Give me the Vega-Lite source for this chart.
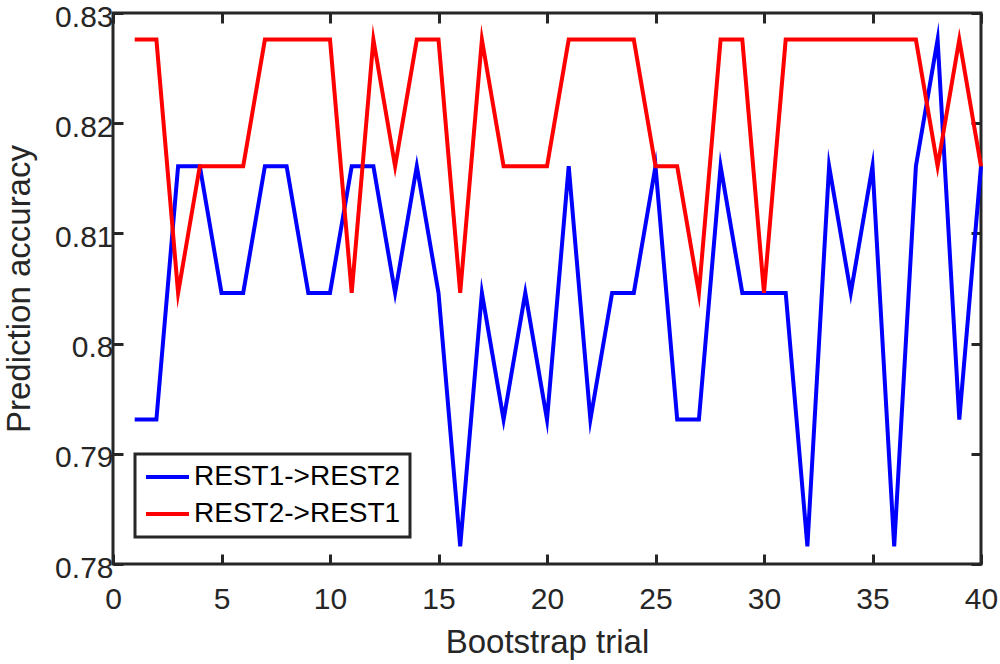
{
  "$schema": "https://vega.github.io/schema/vega-lite/v6.json",
  "width": 868,
  "height": 551,
  "autosize": "none",
  "padding": {"left": 113, "top": 13, "right": 19, "bottom": 100},
  "background": "white",
  "data": {
    "values": [
      {"trial": 1, "acc": 0.793103, "series": "REST1->REST2"},
      {"trial": 2, "acc": 0.793103, "series": "REST1->REST2"},
      {"trial": 3, "acc": 0.816092, "series": "REST1->REST2"},
      {"trial": 4, "acc": 0.816092, "series": "REST1->REST2"},
      {"trial": 5, "acc": 0.804598, "series": "REST1->REST2"},
      {"trial": 6, "acc": 0.804598, "series": "REST1->REST2"},
      {"trial": 7, "acc": 0.816092, "series": "REST1->REST2"},
      {"trial": 8, "acc": 0.816092, "series": "REST1->REST2"},
      {"trial": 9, "acc": 0.804598, "series": "REST1->REST2"},
      {"trial": 10, "acc": 0.804598, "series": "REST1->REST2"},
      {"trial": 11, "acc": 0.816092, "series": "REST1->REST2"},
      {"trial": 12, "acc": 0.816092, "series": "REST1->REST2"},
      {"trial": 13, "acc": 0.804598, "series": "REST1->REST2"},
      {"trial": 14, "acc": 0.816092, "series": "REST1->REST2"},
      {"trial": 15, "acc": 0.804598, "series": "REST1->REST2"},
      {"trial": 16, "acc": 0.781609, "series": "REST1->REST2"},
      {"trial": 17, "acc": 0.804598, "series": "REST1->REST2"},
      {"trial": 18, "acc": 0.793103, "series": "REST1->REST2"},
      {"trial": 19, "acc": 0.804598, "series": "REST1->REST2"},
      {"trial": 20, "acc": 0.793103, "series": "REST1->REST2"},
      {"trial": 21, "acc": 0.816092, "series": "REST1->REST2"},
      {"trial": 22, "acc": 0.793103, "series": "REST1->REST2"},
      {"trial": 23, "acc": 0.804598, "series": "REST1->REST2"},
      {"trial": 24, "acc": 0.804598, "series": "REST1->REST2"},
      {"trial": 25, "acc": 0.816092, "series": "REST1->REST2"},
      {"trial": 26, "acc": 0.793103, "series": "REST1->REST2"},
      {"trial": 27, "acc": 0.793103, "series": "REST1->REST2"},
      {"trial": 28, "acc": 0.816092, "series": "REST1->REST2"},
      {"trial": 29, "acc": 0.804598, "series": "REST1->REST2"},
      {"trial": 30, "acc": 0.804598, "series": "REST1->REST2"},
      {"trial": 31, "acc": 0.804598, "series": "REST1->REST2"},
      {"trial": 32, "acc": 0.781609, "series": "REST1->REST2"},
      {"trial": 33, "acc": 0.816092, "series": "REST1->REST2"},
      {"trial": 34, "acc": 0.804598, "series": "REST1->REST2"},
      {"trial": 35, "acc": 0.816092, "series": "REST1->REST2"},
      {"trial": 36, "acc": 0.781609, "series": "REST1->REST2"},
      {"trial": 37, "acc": 0.816092, "series": "REST1->REST2"},
      {"trial": 38, "acc": 0.827586, "series": "REST1->REST2"},
      {"trial": 39, "acc": 0.793103, "series": "REST1->REST2"},
      {"trial": 40, "acc": 0.816092, "series": "REST1->REST2"},
      {"trial": 1, "acc": 0.827586, "series": "REST2->REST1"},
      {"trial": 2, "acc": 0.827586, "series": "REST2->REST1"},
      {"trial": 3, "acc": 0.804598, "series": "REST2->REST1"},
      {"trial": 4, "acc": 0.816092, "series": "REST2->REST1"},
      {"trial": 5, "acc": 0.816092, "series": "REST2->REST1"},
      {"trial": 6, "acc": 0.816092, "series": "REST2->REST1"},
      {"trial": 7, "acc": 0.827586, "series": "REST2->REST1"},
      {"trial": 8, "acc": 0.827586, "series": "REST2->REST1"},
      {"trial": 9, "acc": 0.827586, "series": "REST2->REST1"},
      {"trial": 10, "acc": 0.827586, "series": "REST2->REST1"},
      {"trial": 11, "acc": 0.804598, "series": "REST2->REST1"},
      {"trial": 12, "acc": 0.827586, "series": "REST2->REST1"},
      {"trial": 13, "acc": 0.816092, "series": "REST2->REST1"},
      {"trial": 14, "acc": 0.827586, "series": "REST2->REST1"},
      {"trial": 15, "acc": 0.827586, "series": "REST2->REST1"},
      {"trial": 16, "acc": 0.804598, "series": "REST2->REST1"},
      {"trial": 17, "acc": 0.827586, "series": "REST2->REST1"},
      {"trial": 18, "acc": 0.816092, "series": "REST2->REST1"},
      {"trial": 19, "acc": 0.816092, "series": "REST2->REST1"},
      {"trial": 20, "acc": 0.816092, "series": "REST2->REST1"},
      {"trial": 21, "acc": 0.827586, "series": "REST2->REST1"},
      {"trial": 22, "acc": 0.827586, "series": "REST2->REST1"},
      {"trial": 23, "acc": 0.827586, "series": "REST2->REST1"},
      {"trial": 24, "acc": 0.827586, "series": "REST2->REST1"},
      {"trial": 25, "acc": 0.816092, "series": "REST2->REST1"},
      {"trial": 26, "acc": 0.816092, "series": "REST2->REST1"},
      {"trial": 27, "acc": 0.804598, "series": "REST2->REST1"},
      {"trial": 28, "acc": 0.827586, "series": "REST2->REST1"},
      {"trial": 29, "acc": 0.827586, "series": "REST2->REST1"},
      {"trial": 30, "acc": 0.804598, "series": "REST2->REST1"},
      {"trial": 31, "acc": 0.827586, "series": "REST2->REST1"},
      {"trial": 32, "acc": 0.827586, "series": "REST2->REST1"},
      {"trial": 33, "acc": 0.827586, "series": "REST2->REST1"},
      {"trial": 34, "acc": 0.827586, "series": "REST2->REST1"},
      {"trial": 35, "acc": 0.827586, "series": "REST2->REST1"},
      {"trial": 36, "acc": 0.827586, "series": "REST2->REST1"},
      {"trial": 37, "acc": 0.827586, "series": "REST2->REST1"},
      {"trial": 38, "acc": 0.816092, "series": "REST2->REST1"},
      {"trial": 39, "acc": 0.827586, "series": "REST2->REST1"},
      {"trial": 40, "acc": 0.816092, "series": "REST2->REST1"}
    ]
  },
  "layer": [
    {
      "mark": {"type": "line", "strokeWidth": 4, "strokeJoin": "miter", "strokeMiterLimit": 10},
      "encoding": {
        "x": {
          "field": "trial",
          "type": "quantitative",
          "scale": {"domain": [0, 40], "nice": false, "zero": false},
          "axis": {
            "orient": "bottom",
            "title": "Bootstrap trial",
            "values": [0, 5, 10, 15, 20, 25, 30, 35, 40],
            "tickSize": -10,
            "labelPadding": 30,
            "titlePadding": 12
          }
        },
        "y": {
          "field": "acc",
          "type": "quantitative",
          "scale": {"domain": [0.78, 0.83], "nice": false, "zero": false},
          "axis": {
            "orient": "left",
            "title": "Prediction accuracy",
            "values": [0.78, 0.79, 0.8, 0.81, 0.82, 0.83],
            "format": "~g",
            "tickSize": -10,
            "labelPadding": 10,
            "labelOffset": 4,
            "titlePadding": 18
          }
        },
        "color": {
          "field": "series",
          "type": "nominal",
          "scale": {"domain": ["REST1->REST2", "REST2->REST1"], "range": ["#0000ff", "#ff0000"]},
          "legend": {
            "title": null,
            "orient": "none",
            "legendX": 22,
            "legendY": 441,
            "symbolType": "stroke",
            "symbolSize": 1849,
            "symbolStrokeWidth": 4,
            "clipHeight": 28,
            "rowPadding": 9,
            "labelOffset": 3,
            "padding": 9,
            "labelFontSize": 28,
            "labelLimit": 400,
            "labelColor": "#000000",
            "labelFont": "Liberation Sans",
            "strokeColor": "#262626",
            "fillColor": "white",
            "encode": {
              "legend": {"update": {"strokeWidth": {"value": 3}}}
            }
          }
        }
      }
    },
    {
      "mark": {"type": "line", "opacity": 0},
      "encoding": {
        "x": {
          "field": "trial",
          "type": "quantitative",
          "axis": {
            "orient": "top",
            "title": null,
            "labels": false,
            "values": [0, 5, 10, 15, 20, 25, 30, 35, 40],
            "tickSize": -10
          }
        },
        "y": {
          "field": "acc",
          "type": "quantitative",
          "axis": {
            "orient": "right",
            "title": null,
            "labels": false,
            "values": [0.78, 0.79, 0.8, 0.81, 0.82, 0.83],
            "tickSize": -10
          }
        },
        "detail": {"field": "series"}
      }
    }
  ],
  "resolve": {"axis": {"x": "independent", "y": "independent"}},
  "config": {
    "view": {"stroke": "#262626", "strokeWidth": 3},
    "axis": {
      "domain": false,
      "grid": false,
      "ticks": true,
      "tickColor": "#262626",
      "tickWidth": 3,
      "labelFont": "Liberation Sans",
      "labelFontSize": 30,
      "labelColor": "#262626",
      "labelFlush": false,
      "titleFont": "Liberation Sans",
      "titleFontSize": 33,
      "titleFontWeight": "normal",
      "titleColor": "#262626"
    }
  }
}
